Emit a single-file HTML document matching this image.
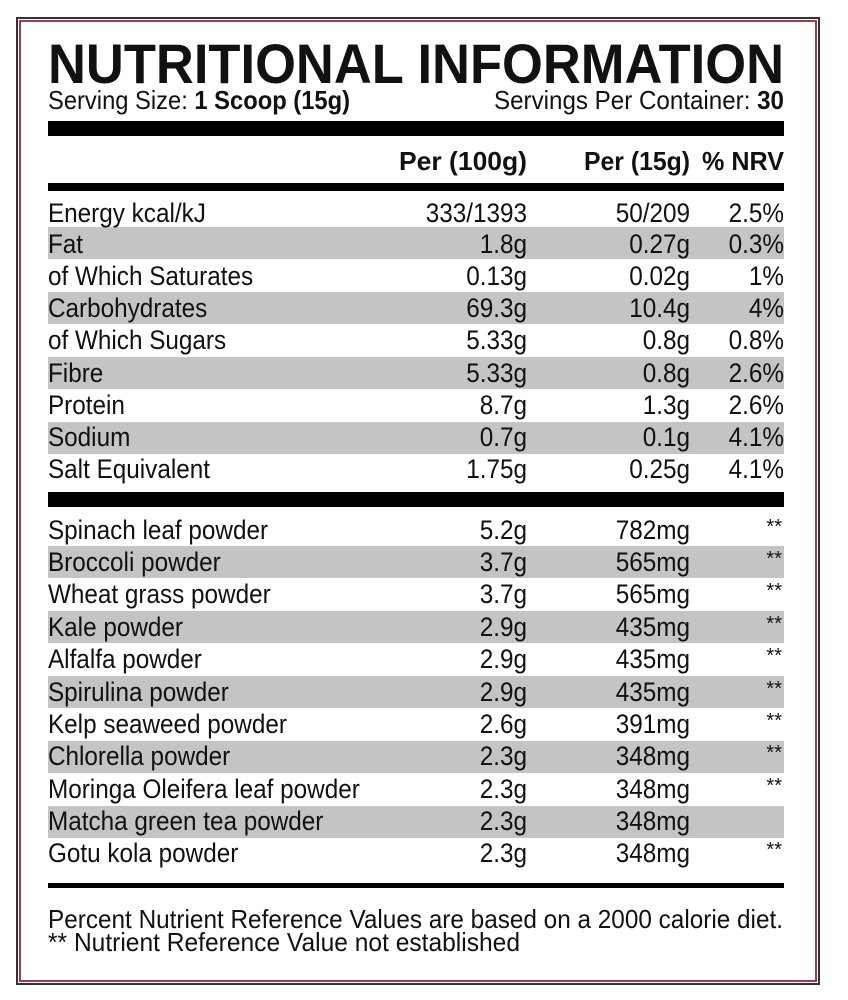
<!DOCTYPE html>
<html><head><meta charset="utf-8"><style>
html,body{margin:0;padding:0;background:#fff;}
svg{display:block;}
text{font-family:"Liberation Sans",sans-serif;fill:#111;}
</style></head><body>
<svg width="848" height="1000" viewBox="0 0 848 1000" xmlns="http://www.w3.org/2000/svg">
<rect x="17" y="18" width="802" height="966" fill="#fff" stroke="#333" stroke-width="2"/>
<rect x="20" y="21" width="796" height="960" fill="none" stroke="#a33a48" stroke-width="2"/>
<text x="48" y="83" font-size="56" font-weight="bold" textLength="736" lengthAdjust="spacingAndGlyphs">NUTRITIONAL INFORMATION</text>
<text x="48" y="109" font-size="26" textLength="302" lengthAdjust="spacingAndGlyphs">Serving Size: <tspan font-weight="bold">1 Scoop (15g)</tspan></text>
<text x="784" y="109" font-size="26" text-anchor="end" textLength="290" lengthAdjust="spacingAndGlyphs">Servings Per Container: <tspan font-weight="bold">30</tspan></text>
<rect x="48" y="121" width="736" height="15" fill="#000"/>
<g font-size="26" font-weight="bold">
<text x="527" y="170" text-anchor="end" textLength="128" lengthAdjust="spacingAndGlyphs">Per (100g)</text>
<text x="690" y="170" text-anchor="end" textLength="106" lengthAdjust="spacingAndGlyphs">Per (15g)</text>
<text x="784" y="170" text-anchor="end" textLength="82" lengthAdjust="spacingAndGlyphs">% NRV</text>
</g>
<rect x="48" y="183" width="736" height="8" fill="#000"/>
<g fill="#c4c4c4">
<rect x="48" y="227" width="736" height="32"/>
<rect x="48" y="292" width="736" height="32"/>
<rect x="48" y="357" width="736" height="32"/>
<rect x="48" y="422" width="736" height="32"/>
<rect x="48" y="546" width="736" height="32"/>
<rect x="48" y="611" width="736" height="32"/>
<rect x="48" y="676" width="736" height="32"/>
<rect x="48" y="741" width="736" height="32"/>
<rect x="48" y="806" width="736" height="32"/>
</g>
<g font-size="27" transform="scale(0.9,1)">
<text x="53.3" y="222">Energy kcal/kJ</text><text x="585.6" y="222" text-anchor="end">333/1393</text><text x="766.7" y="222" text-anchor="end">50/209</text><text x="871.1" y="222" text-anchor="end">2.5%</text>
<text x="53.3" y="253">Fat</text><text x="585.6" y="253" text-anchor="end">1.8g</text><text x="766.7" y="253" text-anchor="end">0.27g</text><text x="871.1" y="253" text-anchor="end">0.3%</text>
<text x="53.3" y="285">of Which Saturates</text><text x="585.6" y="285" text-anchor="end">0.13g</text><text x="766.7" y="285" text-anchor="end">0.02g</text><text x="871.1" y="285" text-anchor="end">1%</text>
<text x="53.3" y="317">Carbohydrates</text><text x="585.6" y="317" text-anchor="end">69.3g</text><text x="766.7" y="317" text-anchor="end">10.4g</text><text x="871.1" y="317" text-anchor="end">4%</text>
<text x="53.3" y="349">of Which Sugars</text><text x="585.6" y="349" text-anchor="end">5.33g</text><text x="766.7" y="349" text-anchor="end">0.8g</text><text x="871.1" y="349" text-anchor="end">0.8%</text>
<text x="53.3" y="382">Fibre</text><text x="585.6" y="382" text-anchor="end">5.33g</text><text x="766.7" y="382" text-anchor="end">0.8g</text><text x="871.1" y="382" text-anchor="end">2.6%</text>
<text x="53.3" y="414">Protein</text><text x="585.6" y="414" text-anchor="end">8.7g</text><text x="766.7" y="414" text-anchor="end">1.3g</text><text x="871.1" y="414" text-anchor="end">2.6%</text>
<text x="53.3" y="446">Sodium</text><text x="585.6" y="446" text-anchor="end">0.7g</text><text x="766.7" y="446" text-anchor="end">0.1g</text><text x="871.1" y="446" text-anchor="end">4.1%</text>
<text x="53.3" y="478">Salt Equivalent</text><text x="585.6" y="478" text-anchor="end">1.75g</text><text x="766.7" y="478" text-anchor="end">0.25g</text><text x="871.1" y="478" text-anchor="end">4.1%</text>
</g>
<rect x="48" y="492" width="736" height="15" fill="#000"/>
<g font-size="27" transform="scale(0.9,1)">
<text x="53.3" y="539">Spinach leaf powder</text><text x="585.6" y="539" text-anchor="end">5.2g</text><text x="766.7" y="539" text-anchor="end">782mg</text>
<text x="53.3" y="571">Broccoli powder</text><text x="585.6" y="571" text-anchor="end">3.7g</text><text x="766.7" y="571" text-anchor="end">565mg</text>
<text x="53.3" y="603">Wheat grass powder</text><text x="585.6" y="603" text-anchor="end">3.7g</text><text x="766.7" y="603" text-anchor="end">565mg</text>
<text x="53.3" y="636">Kale powder</text><text x="585.6" y="636" text-anchor="end">2.9g</text><text x="766.7" y="636" text-anchor="end">435mg</text>
<text x="53.3" y="668">Alfalfa powder</text><text x="585.6" y="668" text-anchor="end">2.9g</text><text x="766.7" y="668" text-anchor="end">435mg</text>
<text x="53.3" y="701">Spirulina powder</text><text x="585.6" y="701" text-anchor="end">2.9g</text><text x="766.7" y="701" text-anchor="end">435mg</text>
<text x="53.3" y="733">Kelp seaweed powder</text><text x="585.6" y="733" text-anchor="end">2.6g</text><text x="766.7" y="733" text-anchor="end">391mg</text>
<text x="53.3" y="765">Chlorella powder</text><text x="585.6" y="765" text-anchor="end">2.3g</text><text x="766.7" y="765" text-anchor="end">348mg</text>
<text x="53.3" y="798">Moringa Oleifera leaf powder</text><text x="585.6" y="798" text-anchor="end">2.3g</text><text x="766.7" y="798" text-anchor="end">348mg</text>
<text x="53.3" y="830">Matcha green tea powder</text><text x="585.6" y="830" text-anchor="end">2.3g</text><text x="766.7" y="830" text-anchor="end">348mg</text>
<text x="53.3" y="862">Gotu kola powder</text><text x="585.6" y="862" text-anchor="end">2.3g</text><text x="766.7" y="862" text-anchor="end">348mg</text>
</g>
<g font-size="20" fill="#333">
<text x="782" y="533" text-anchor="end">**</text>
<text x="782" y="565" text-anchor="end">**</text>
<text x="782" y="597" text-anchor="end">**</text>
<text x="782" y="630" text-anchor="end">**</text>
<text x="782" y="662" text-anchor="end">**</text>
<text x="782" y="695" text-anchor="end">**</text>
<text x="782" y="727" text-anchor="end">**</text>
<text x="782" y="759" text-anchor="end">**</text>
<text x="782" y="792" text-anchor="end">**</text>
<text x="782" y="856" text-anchor="end">**</text>
</g>
<rect x="48" y="883" width="736" height="5" fill="#000"/>
<text x="48" y="928" font-size="26" textLength="735" lengthAdjust="spacingAndGlyphs">Percent Nutrient Reference Values are based on a 2000 calorie diet.</text>
<text x="48" y="951" font-size="26" textLength="472" lengthAdjust="spacingAndGlyphs">** Nutrient Reference Value not established</text>
</svg>
</body></html>
